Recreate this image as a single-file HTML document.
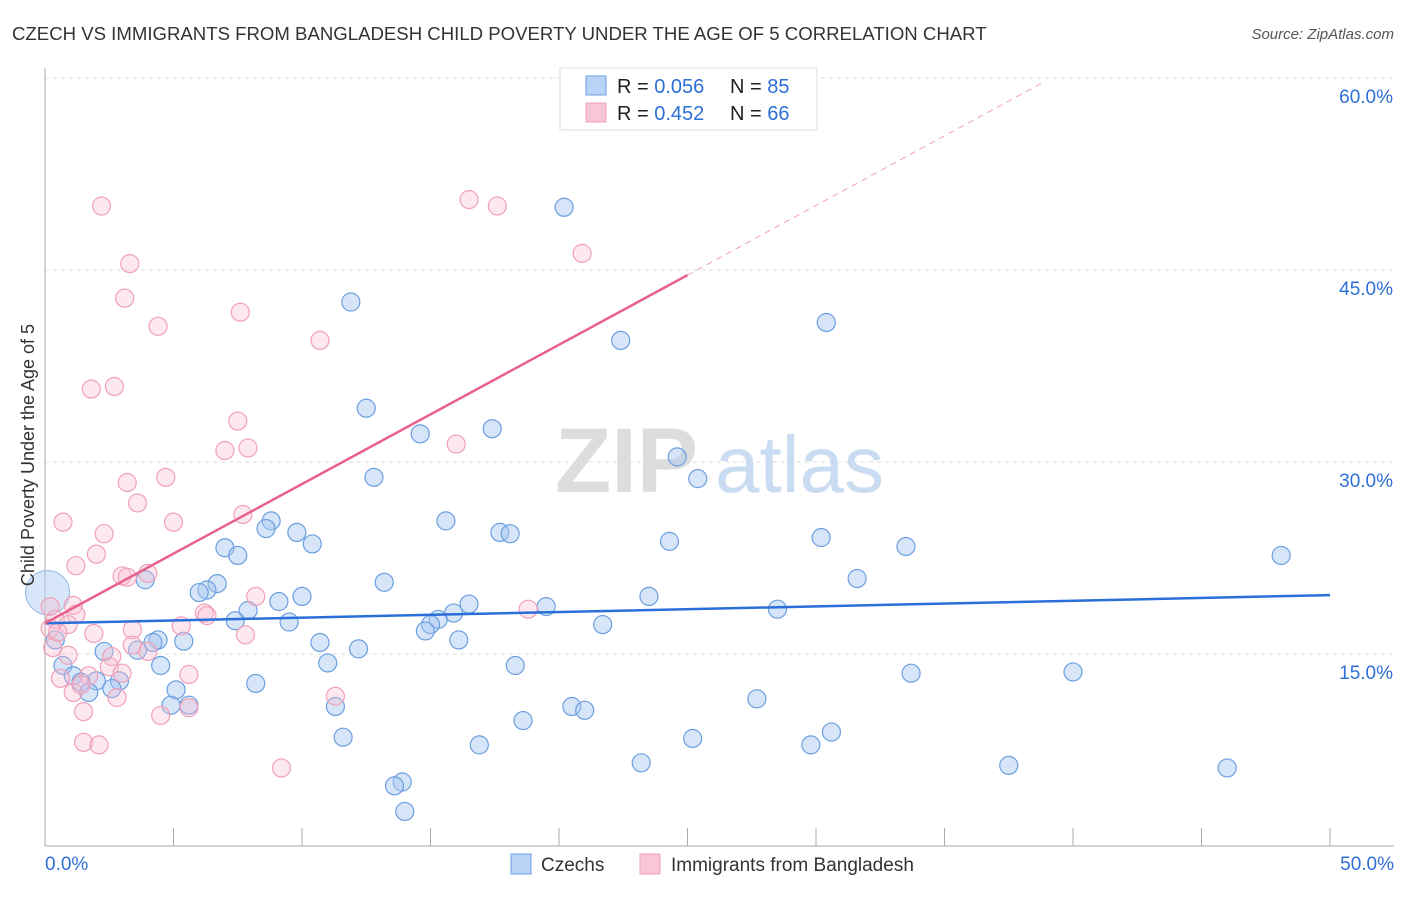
<!DOCTYPE html>
<html><head><meta charset="utf-8"><style>
body{margin:0;background:#fff;font-family:"Liberation Sans",sans-serif;}
svg text{font-family:"Liberation Sans",sans-serif;}
</style></head><body>
<svg id="chart" width="1406" height="892">
<text x="12" y="40" font-size="18.6" fill="#333">CZECH VS IMMIGRANTS FROM BANGLADESH CHILD POVERTY UNDER THE AGE OF 5 CORRELATION CHART</text>
<text x="1394" y="39" font-size="15" fill="#555" font-style="italic" text-anchor="end">Source: ZipAtlas.com</text>
<g id="grid"></g>
<g><text x="555" y="492" font-size="92" fill="#ddd" font-family="Liberation Serif" font-weight="bold">ZIP</text><text x="715" y="492" font-size="80" fill="#c9dcf2">atlas</text></g>
<g id="axes"></g>
<g id="pts"></g>
<g id="lines"></g>
<text transform="translate(34,455) rotate(-90)" font-size="18" fill="#333" text-anchor="middle">Child Poverty Under the Age of 5</text>
<g>
<rect x="560" y="68" width="257" height="62" fill="#fff" stroke="#ddd"/>
<rect x="586" y="76" width="20" height="19" fill="#b8d3f5" stroke="#6b9fe0"/>
<text x="617" y="93" font-size="20" fill="#222">R = <tspan fill="#2e6fd6">0.056</tspan></text>
<text x="730" y="93" font-size="20" fill="#222">N = <tspan fill="#2e6fd6">85</tspan></text>
<rect x="586" y="103" width="20" height="19" fill="#f8c6d4" stroke="#f0a0b8"/>
<text x="617" y="120" font-size="20" fill="#222">R = <tspan fill="#2e6fd6">0.452</tspan></text>
<text x="730" y="120" font-size="20" fill="#222">N = <tspan fill="#2e6fd6">66</tspan></text>
</g>
<g>
<rect x="511" y="854" width="20" height="20" fill="#b8d3f5" stroke="#6b9fe0"/>
<text x="541" y="871" font-size="19" fill="#333">Czechs</text>
<rect x="640" y="854" width="20" height="20" fill="#f8c6d4" stroke="#f0a0b8"/>
<text x="671" y="871" font-size="19" fill="#333">Immigrants from Bangladesh</text>
</g>
</svg>
<script>
const yTicks=[15,30,45,60];
const yTickLabels=["15.0%","30.0%","45.0%","60.0%"];
const xEndLabels=["0.0%","50.0%"];
const czX=[20.2,11.9,30.4,22.4,12.5,14.6,17.4,24.6,12.8,25.4,15.6,8.8,8.6,9.8,10.4,17.7,18.1,24.3,30.2,33.5,48.1,7.0,7.5,6.7,3.9,13.2,31.6,6.3,6.0,10.0,9.1,16.5,23.5,19.5,28.5,7.9,7.4,15.9,15.3,15.0,14.8,9.5,21.7,4.4,5.4,4.2,10.7,16.1,3.6,12.2,2.3,0.4,11.0,4.5,0.7,18.3,1.1,2.0,1.4,2.9,2.6,1.7,5.1,8.2,33.7,40.0,4.9,5.6,11.3,27.7,20.5,21.0,18.6,11.6,30.6,25.2,16.9,29.8,23.2,37.5,46.0,13.9,13.6,14.0,0.1];
const czY=[49.9,42.5,40.9,39.5,34.2,32.2,32.6,30.4,28.8,28.7,25.4,25.4,24.8,24.5,23.6,24.5,24.4,23.8,24.1,23.4,22.7,23.3,22.7,20.5,20.8,20.6,20.9,20.0,19.8,19.5,19.1,18.9,19.5,18.7,18.5,18.4,17.6,18.2,17.7,17.3,16.8,17.5,17.3,16.1,16.0,15.9,15.9,16.1,15.3,15.4,15.2,16.1,14.3,14.1,14.1,14.1,13.3,12.9,12.8,12.9,12.3,12.0,12.2,12.7,13.5,13.6,11.0,11.0,10.9,11.5,10.9,10.6,9.8,8.5,8.9,8.4,7.9,7.9,6.5,6.3,6.1,5.0,4.7,2.7,19.8];
const bdX=[2.2,16.5,17.6,3.3,20.9,3.1,4.4,7.6,10.7,1.8,2.7,7.5,7.0,7.9,16.0,3.2,4.7,3.6,0.7,5.0,7.7,2.3,2.0,1.2,3.0,4.0,3.2,8.2,6.2,6.3,5.3,3.4,7.8,1.9,0.2,1.1,1.2,0.4,0.9,0.3,0.9,2.6,3.4,4.0,2.5,1.7,0.6,3.0,1.1,1.4,2.8,5.6,5.6,4.5,1.5,11.3,18.8,9.2,1.5,2.1,0.2,0.5];
const bdY=[50.0,50.5,50.0,45.5,46.3,42.8,40.6,41.7,39.5,35.7,35.9,33.2,30.9,31.1,31.4,28.4,28.8,26.8,25.3,25.3,25.9,24.4,22.8,21.9,21.1,21.3,21.0,19.5,18.2,18.0,17.2,16.9,16.5,16.6,18.7,18.8,18.1,17.7,17.3,15.5,14.9,14.8,15.7,15.2,14.0,13.3,13.1,13.5,12.0,12.6,11.6,13.4,10.8,10.2,10.5,11.7,18.5,6.1,8.1,7.9,17.0,16.7];
const czTrend=[17.4,19.6];
const bdTrend=[17.4,1.088];
const X=v=>45+v*25.7, Y=v=>846-v*12.8;
const NS="http://www.w3.org/2000/svg";
function mk(t,a,p){const e=document.createElementNS(NS,t);for(const k in a)e.setAttribute(k,a[k]);p.appendChild(e);return e;}
const grid=document.getElementById('grid'),axes=document.getElementById('axes'),pts=document.getElementById('pts'),lines=document.getElementById('lines');
yTicks.forEach((t,i)=>{
 const l=mk('line',{x1:45,x2:1394,y1:Y(t),y2:Y(t),stroke:'#ddd','stroke-dasharray':'4,4'},grid);
 
 
 const tx=mk('text',{x:1393,y:Y(t)+25,'font-size':19,fill:'#2e6fd6','text-anchor':'end'},axes);
 tx.textContent=yTickLabels[i];
 
 
});
mk('line',{x1:45,x2:45,y1:68,y2:846,stroke:'#aaa'},axes);
mk('line',{x1:45,x2:1394,y1:846,y2:846,stroke:'#aaa'},axes);
for(let i=1;i<=10;i++){mk('line',{x1:X(i*5),x2:X(i*5),y1:828,y2:846,stroke:'#aaa'},axes);}
const xl0=mk('text',{x:45,y:870,'font-size':19,fill:'#2e6fd6'},axes);xl0.textContent=xEndLabels[0];


const xl1=mk('text',{x:1394,y:870,'font-size':19,fill:'#2e6fd6','text-anchor':'end'},axes);xl1.textContent=xEndLabels[1];


czX.forEach((x,i)=>{
 const big=i===czX.length-1;
 const c=mk('circle',{cx:X(x),cy:Y(czY[i]),r:big?22:9,fill:big?'rgba(175,205,242,0.5)':'rgba(165,198,240,0.45)',stroke:big?'#9dbfe8':'#6b9fe0','stroke-width':1.2},pts);
 
 
});
bdX.forEach((x,i)=>{
 const c=mk('circle',{cx:X(x),cy:Y(bdY[i]),r:9,fill:'rgba(248,190,208,0.35)',stroke:'#f0a0b8','stroke-width':1.2},pts);
 
 
});
const cl=mk('line',{x1:X(0),y1:Y(czTrend[0]),x2:X(50),y2:Y(czTrend[1]),stroke:'#2a6fd8','stroke-width':2.5},lines);


const bl=mk('line',{x1:X(0),y1:Y(bdTrend[0]),x2:X(25),y2:Y(bdTrend[0]+25*bdTrend[1]),stroke:'#e8608e','stroke-width':2.5},lines);


const bd=mk('line',{x1:X(25),y1:Y(bdTrend[0]+25*bdTrend[1]),x2:X(38.8),y2:Y(bdTrend[0]+38.8*bdTrend[1]),stroke:'#f0a0b8','stroke-width':1,'stroke-dasharray':'6,5'},lines);


</script>
</body></html>
